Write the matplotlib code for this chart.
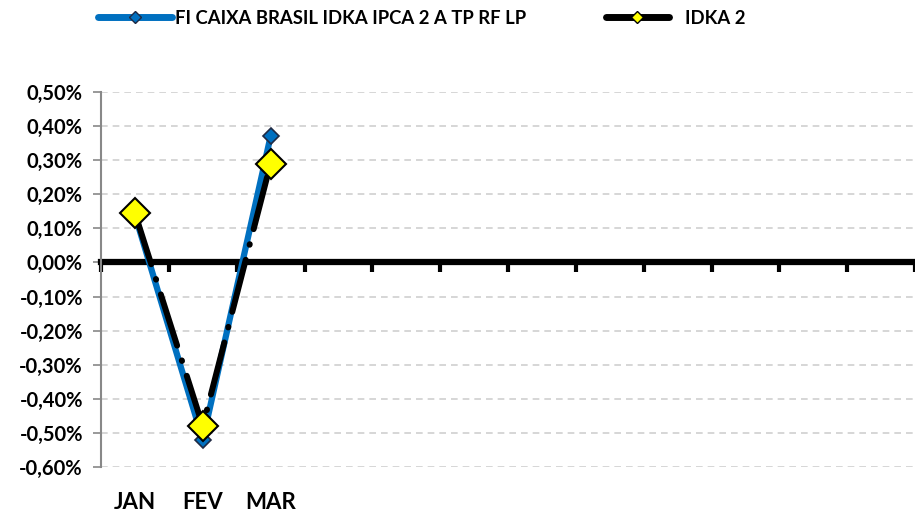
import matplotlib
matplotlib.use('Agg')
import matplotlib.pyplot as plt
from matplotlib.lines import Line2D
from matplotlib.ticker import FuncFormatter
import matplotlib.transforms as mtransforms

plt.rcParams['font.family'] = ['Lato', 'DejaVu Sans']
plt.rcParams['font.weight'] = 'bold'

meses = ["JAN", "FEV", "MAR"]
n_categorias = 12
fundo = [0.14, -0.52, 0.37]
idka = [0.145, -0.48, 0.29]
nome_fundo = "FI CAIXA BRASIL IDKA IPCA 2 A TP RF LP"
nome_idka = "IDKA 2"
yticks = [0.5, 0.4, 0.3, 0.2, 0.1, 0.0, -0.1, -0.2, -0.3, -0.4, -0.5, -0.6]

azul = '#0070C0'
amarelo = '#FFFF00'

fig = plt.figure(figsize=(9.15, 5.13), dpi=100)
ax = fig.add_axes([101/915, 1 - 467/513, 1 - 101/915, (467 - 92)/513])

x = list(range(1, len(meses) + 1))

ax.plot(x, fundo, color=azul, lw=4.5, solid_capstyle='round', zorder=3,
        marker='D', markersize=8, markerfacecolor=azul, markeredgecolor='#1f2a44',
        markeredgewidth=1.2)
ax.plot(x, idka, color='black', lw=4.3, dashes=(9, 2.6, 0.1, 2.6),
        dash_capstyle='round', zorder=4, marker='D', markersize=15,
        markerfacecolor=amarelo, markeredgecolor='black', markeredgewidth=1.5)

ax.set_xlim(0.5, n_categorias + 0.5)
ax.set_ylim(-0.6, 0.5)
ax.set_yticks(yticks)
ax.yaxis.set_major_formatter(FuncFormatter(lambda v, p: f"{v:.2f}%".replace('.', ',')))
ax.tick_params(axis='y', direction='out', length=6, width=1.2, color='#888888',
               labelsize=14.5, pad=7)
for t in ax.get_yticklabels():
    t.set_fontweight('bold')

# grid
ax.grid(axis='y', ls=(0, (4, 3)), color='#d0d0d0', lw=1.2, zorder=0)
ax.set_axisbelow(True)

for s in ['top', 'right']:
    ax.spines[s].set_visible(False)
ax.spines['left'].set_color('#888888')
ax.spines['left'].set_linewidth(1.5)

# eixo zero com marcas entre categorias
ax.spines['bottom'].set_position(('data', 0))
ax.spines['bottom'].set_color('black')
ax.spines['bottom'].set_linewidth(4.5)
ax.spines['bottom'].set_zorder(2)
ax.set_xticks([i + 0.5 for i in range(n_categorias + 1)])
ax.tick_params(axis='x', direction='out', length=7, width=3, color='black',
               labelbottom=False)

trans = mtransforms.blended_transform_factory(ax.transData, ax.transAxes)
for i, m in enumerate(meses):
    ax.text(i + 1, -0.095, m, transform=trans, ha='center', va='center',
            fontsize=16, fontweight='bold')

h_fundo = Line2D([], [], color=azul, lw=5, solid_capstyle='round', marker='D',
                 markersize=6, markerfacecolor=azul, markeredgecolor='#1f2a44')
h_idka = Line2D([], [], color='black', lw=5, solid_capstyle='round', marker='D',
                markersize=6, markerfacecolor=amarelo, markeredgecolor='black')
leg_kw = dict(loc='center left', frameon=False, borderaxespad=0, borderpad=0,
              prop={'weight': 'bold', 'size': 13.3})
leg1 = fig.legend([h_fundo], [nome_fundo], bbox_to_anchor=(98/915, 1 - 18/513),
                  handlelength=4.0, handletextpad=0.15, **leg_kw)
fig.legend([h_idka], [nome_idka], bbox_to_anchor=(606/915, 1 - 18/513),
           handlelength=3.4, handletextpad=0.9, **leg_kw)

plt.savefig('out.png', dpi=100)
plt.close()
